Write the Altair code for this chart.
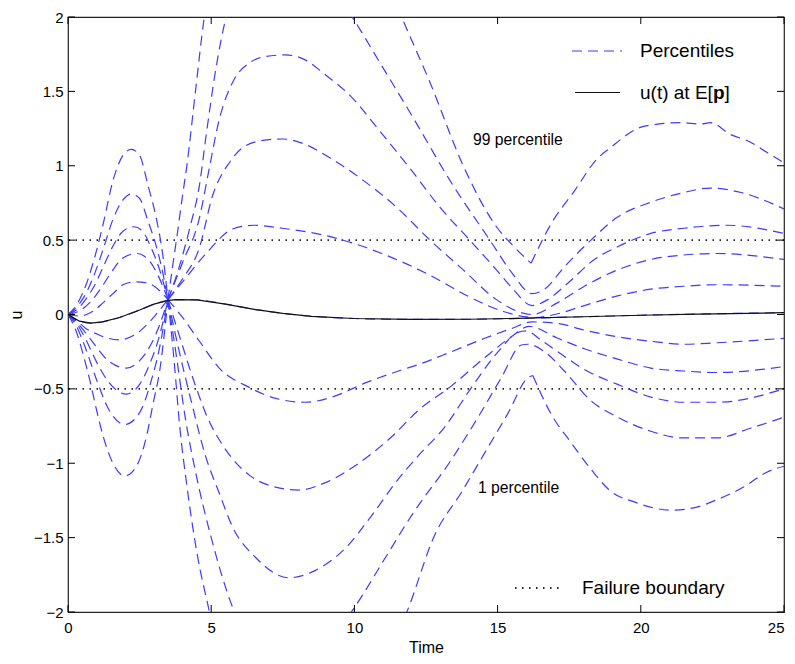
import altair as alt
import pandas as pd

# ---------------- data ----------------
time_ticks = [0, 5, 10, 15, 20, 25]
u_ticks = [-2, -1.5, -1, -0.5, 0, 0.5, 1, 1.5, 2]
failure_levels = [0.5, -0.5]

mean_t = [0, 0.4, 0.8, 1.2, 1.8, 2.5, 3.0, 3.5, 3.8, 4.5, 5.5, 6.5, 7.5, 8.5, 10, 12, 14, 16, 18, 20, 22, 25]
mean_u = [0, -0.045, -0.058, -0.05, -0.02, 0.03, 0.07, 0.095, 0.1, 0.098, 0.07, 0.035, 0.008, -0.012,
          -0.027, -0.033, -0.032, -0.025, -0.015, -0.005, 0.003, 0.012]

med_t = [0, 0.4, 0.8, 1.2, 1.8, 2.5, 3.0, 3.5, 3.8, 4.5, 5.5, 6.5, 7.5, 8.5, 10, 12, 14, 16, 18, 20, 22, 25]
med_u = [0, -0.045, -0.058, -0.05, -0.02, 0.03, 0.07, 0.095, 0.1, 0.098, 0.07, 0.035, 0.008, -0.012,
         -0.027, -0.033, -0.032, -0.025, -0.015, -0.005, 0.003, 0.012]

up5_t = [0, 0.35, 0.65, 0.94, 1.23, 1.57, 1.92, 2.21, 2.5, 2.79, 3.08, 3.31, 3.49, 3.65, 3.8, 4.0, 4.15,
         4.45, 4.76, 5.2, 6.0, 7.0, 8.0, 9.0, 10.0, 11.0, 11.65, 12.64, 13.8, 14.96, 15.6, 16.17, 16.87,
         17.68, 18.49, 18.9, 19.88, 20.6, 21.39, 22.08, 22.43, 23.13, 23.82, 24.4, 25]
up5_u = [0, 0.08, 0.21, 0.39, 0.61, 0.9, 1.07, 1.11, 1.07, 0.87, 0.65, 0.4, 0.1, 0.32, 0.52, 0.8, 1.0,
         1.5, 2.0, 2.4, 2.85, 3.1, 3.15, 3.0, 2.7, 2.3, 2.0, 1.56, 1.0, 0.59, 0.45, 0.345, 0.61,
         0.83, 1.05, 1.115, 1.25, 1.28, 1.29, 1.28, 1.29, 1.21, 1.16, 1.09, 1.02]

up4_t = [0, 0.35, 0.65, 0.94, 1.23, 1.57, 1.92, 2.21, 2.5, 2.79, 3.08, 3.31, 3.49, 3.9, 4.25, 4.59, 4.82,
         5.17, 5.52, 6.2, 7.0, 7.6, 8.2, 9.0, 9.92, 10.9, 12.06, 13.34, 14.73, 15.5, 16.2, 16.64, 17.33,
         18.26, 19.19, 20.35, 21.5, 22.43, 23.5, 25]
up4_u = [0, 0.06, 0.15, 0.28, 0.44, 0.64, 0.77, 0.81, 0.78, 0.63, 0.46, 0.28, 0.1, 0.33, 0.58, 0.87, 1.2,
         1.66, 2.0, 2.3, 2.44, 2.47, 2.43, 2.25, 2.0, 1.69, 1.32, 0.9, 0.5, 0.28, 0.14, 0.17, 0.32,
         0.5, 0.655, 0.755, 0.82, 0.85, 0.82, 0.71]

up3_t = [0, 0.35, 0.65, 0.94, 1.23, 1.57, 1.92, 2.3, 2.6, 2.9, 3.2, 3.49, 4.0, 4.59, 4.9, 5.28, 5.8, 6.33,
         6.9, 7.6, 8.3, 8.93, 9.86, 10.9, 11.95, 12.99, 14.03, 14.96, 15.5, 16.2, 16.75, 17.45, 18.38,
         19.19, 20.35, 21.5, 23.0, 25]
up3_u = [0, 0.04, 0.11, 0.2, 0.32, 0.46, 0.56, 0.59, 0.56, 0.45, 0.3, 0.1, 0.35, 0.65, 0.95, 1.31, 1.58,
         1.69, 1.735, 1.745, 1.71, 1.62, 1.47, 1.23, 0.98, 0.72, 0.5, 0.3, 0.18, 0.06, 0.1, 0.21, 0.37,
         0.455, 0.545, 0.58, 0.6, 0.545]

up2_t = [0, 0.35, 0.65, 0.94, 1.23, 1.57, 1.92, 2.4, 2.8, 3.1, 3.49, 4.0, 4.59, 5.05, 5.63, 6.09, 6.8,
         7.5, 8.2, 9.17, 10.32, 11.48, 12.64, 13.8, 14.96, 16.2, 17.1, 18.03, 19.19, 20.35, 21.5, 22.66, 25]
up2_u = [0, 0.02, 0.06, 0.12, 0.2, 0.3, 0.38, 0.41, 0.37, 0.28, 0.1, 0.24, 0.45, 0.8, 1.02, 1.12, 1.17,
         1.18, 1.15, 1.05, 0.9, 0.72, 0.5, 0.3, 0.1, 0.0, 0.08, 0.19, 0.3, 0.37, 0.4, 0.41, 0.37]

up1_t = [0, 0.35, 0.65, 0.94, 1.23, 1.57, 1.92, 2.35, 2.8, 3.2, 3.49, 4.0, 4.82, 5.75, 6.5, 7.48, 9.22,
         10.96, 12.58, 14.0, 15.2, 16.3, 17.1, 18.03, 19.19, 20.35, 21.5, 22.66, 25]
up1_u = [0, -0.01, 0.0, 0.03, 0.08, 0.14, 0.2, 0.22, 0.21, 0.16, 0.1, 0.22, 0.41, 0.575, 0.6, 0.58, 0.52,
         0.41, 0.27, 0.12, 0.02, -0.02, 0.005, 0.06, 0.125, 0.17, 0.19, 0.2, 0.19]

lo1_t = [0, 0.3, 0.6, 1.0, 1.4, 1.81, 2.3, 2.8, 3.2, 3.49, 4.0, 4.59, 5.28, 6.33, 7.37, 8.3, 9.22, 10.38,
         11.54, 12.23, 13.39, 14.55, 15.48, 16.2, 17.1, 18.03, 19.19, 20.35, 21.5, 22.66, 25]
lo1_u = [0, -0.04, -0.09, -0.13, -0.16, -0.17, -0.14, -0.06, 0.03, 0.1, -0.02, -0.18, -0.36, -0.49, -0.57,
         -0.59, -0.555, -0.46, -0.38, -0.337, -0.25, -0.16, -0.095, -0.05, -0.06, -0.105, -0.15, -0.18,
         -0.2, -0.19, -0.16]

lo2_t = [0, 0.3, 0.6, 1.0, 1.4, 2.04, 2.5, 2.9, 3.2, 3.49, 3.9, 4.4, 4.82, 5.51, 6.33, 7.25, 8.06, 8.99,
         10.15, 11.31, 12.23, 13.39, 14.55, 15.48, 16.1, 17.1, 18.03, 19.19, 20.35, 21.5, 22.66, 25]
lo2_u = [0, -0.05, -0.12, -0.22, -0.31, -0.36, -0.31, -0.2, -0.07, 0.1, -0.15, -0.45, -0.67, -0.91, -1.08,
         -1.16, -1.18, -1.13, -1.0, -0.82, -0.645, -0.48, -0.29, -0.15, -0.08, -0.16, -0.23, -0.3, -0.36,
         -0.38, -0.39, -0.35]

lo3_t = [0, 0.3, 0.6, 1.0, 1.4, 2.04, 2.5, 2.9, 3.2, 3.49, 3.85, 4.3, 4.8, 5.28, 5.75, 6.56, 7.72, 8.64,
         9.69, 10.61, 11.54, 12.23, 13.16, 14.09, 15.02, 15.71, 16.0, 16.5, 17.1, 18.03, 19.19, 20.35,
         21.5, 22.66, 25]
lo3_u = [0, -0.06, -0.16, -0.32, -0.45, -0.535, -0.47, -0.31, -0.14, 0.1, -0.22, -0.58, -0.95, -1.2, -1.43,
         -1.635, -1.77, -1.72, -1.57, -1.35, -1.105, -0.95, -0.755, -0.49, -0.25, -0.12, -0.11, -0.17,
         -0.25, -0.37, -0.47, -0.555, -0.59, -0.59, -0.5]

lo4_t = [0, 0.3, 0.6, 1.0, 1.4, 1.98, 2.5, 2.9, 3.2, 3.49, 3.8, 4.1, 4.5, 5.0, 5.75, 6.5, 7.5, 8.5, 9.3,
         10.0, 11.08, 12.0, 13.39, 14.32, 15.13, 15.83, 16.06, 16.64, 17.33, 18.26, 19.19, 20.35, 21.5,
         22.66, 23.82, 25]
lo4_u = [0, -0.08, -0.22, -0.44, -0.63, -0.74, -0.66, -0.45, -0.22, 0.1, -0.3, -0.7, -1.1, -1.5, -1.97,
         -2.25, -2.35, -2.3, -2.15, -1.97, -1.635, -1.35, -0.975, -0.69, -0.425, -0.205, -0.2, -0.25,
         -0.38, -0.58, -0.69, -0.785, -0.83, -0.83, -0.765, -0.69]

lo5_t = [0, 0.3, 0.53, 0.76, 1.0, 1.23, 1.57, 1.98, 2.39, 2.74, 2.97, 3.2, 3.49, 3.7, 3.9, 4.15, 4.5, 4.94,
         5.5, 6.5, 7.5, 8.5, 9.5, 10.5, 11.83, 12.81, 13.74, 14.55, 15.36, 16.06, 16.23, 16.87, 17.56,
         18.26, 18.96, 19.77, 21.04, 21.85, 22.66, 23.59, 24.4, 25]
lo5_u = [0, -0.12, -0.27, -0.44, -0.645, -0.82, -1.0, -1.085, -1.02, -0.82, -0.6, -0.38, 0.1, -0.3, -0.75,
         -1.15, -1.6, -2.0, -2.5, -3.0, -3.2, -3.15, -2.9, -2.5, -2.0, -1.48, -1.195, -0.93, -0.665,
         -0.425, -0.41, -0.67, -0.86, -1.04, -1.19, -1.26, -1.315, -1.3, -1.245, -1.16, -1.06, -1.02]

# curve name, t list, u list, times where the drawn curve has a sharp corner
percentile_curves = [
    ("up5", up5_t, up5_u, [3.49, 16.17]),
    ("up4", up4_t, up4_u, [3.49]),
    ("up3", up3_t, up3_u, [3.49]),
    ("up2", up2_t, up2_u, [3.49]),
    ("up1", up1_t, up1_u, [3.49]),
    ("med", med_t, med_u, []),
    ("lo1", lo1_t, lo1_u, [3.49]),
    ("lo2", lo2_t, lo2_u, [3.49]),
    ("lo3", lo3_t, lo3_u, [3.49]),
    ("lo4", lo4_t, lo4_u, [3.49]),
    ("lo5", lo5_t, lo5_u, [3.49, 16.23]),
]

rows = []
for name, ts, us, corners in percentile_curves:
    seg = 0
    for t, u in zip(ts, us):
        rows.append({"curve": name, "seg": seg, "t": t, "u": u})
        if t in corners:
            seg += 1
            rows.append({"curve": name, "seg": seg, "t": t, "u": u})
pct_df = pd.DataFrame(rows)
mean_df = pd.DataFrame({"t": mean_t, "u": mean_u})
fail_df = pd.DataFrame({"u": failure_levels})
xt_df = pd.DataFrame({"t": time_ticks})
yt_df = pd.DataFrame({"u": u_ticks})
one = pd.DataFrame({"k": [0]})

# ---------------- styling ----------------
FONT = "Liberation Sans"
W, H = 716, 595
BLUE = "#3c3cff"
DASH = [10, 6]

xs = alt.Scale(domain=[0, 25], nice=False, zero=False)
ys = alt.Scale(domain=[-2, 2], nice=False, zero=False)
xaxis = alt.Axis(values=time_ticks, format="d", ticks=False, domain=False, grid=False,
                 labelFont=FONT, labelFontSize=15, labelColor="black", labelPadding=8,
                 labelAlign=alt.condition("datum.value == 25", alt.value("right"), alt.value("center")),
                 title="Time", titleFont=FONT, titleFontSize=16, titleFontWeight="normal",
                 titleColor="black", titleX=W / 2, titleY=35, titleBaseline="middle")
yaxis = alt.Axis(values=u_ticks, format="~g", ticks=False, domain=False, grid=False,
                 labelFont=FONT, labelFontSize=15, labelColor="black", labelPadding=5,
                 title="u", titleFont=FONT, titleFontSize=16, titleFontWeight="normal",
                 titleColor="black", titleX=-52, titleY=H / 2, titleAngle=-90,
                 titleBaseline="middle", titleAlign="center")
X = alt.X("t:Q", scale=xs, axis=xaxis)
Y = alt.Y("u:Q", scale=ys, axis=yaxis)

mean_line = alt.Chart(mean_df).mark_line(color="#111111", strokeWidth=1.2, clip=True).encode(x=X, y=Y)

pct_lines = alt.Chart(pct_df).mark_line(
    color=BLUE, strokeWidth=1.2, strokeDash=DASH, clip=True, interpolate="monotone"
).encode(x=X, y=Y, detail=["curve:N", "seg:Q"])

fail_lines = alt.Chart(fail_df).mark_rule(
    color="#222222", strokeWidth=1.8, strokeDash=[1.5, 5.5]
).encode(y=Y)

ticks_bottom = alt.Chart(xt_df).mark_rule(color="black", strokeWidth=1).encode(
    x=X, y=alt.value(H), y2=alt.value(H - 7))
ticks_top = alt.Chart(xt_df).mark_rule(color="black", strokeWidth=1).encode(
    x=X, y=alt.value(0), y2=alt.value(7))
ticks_left = alt.Chart(yt_df).mark_rule(color="black", strokeWidth=1).encode(
    y=Y, x=alt.value(0), x2=alt.value(7))
ticks_right = alt.Chart(yt_df).mark_rule(color="black", strokeWidth=1).encode(
    y=Y, x=alt.value(W), x2=alt.value(W - 7))


def label(text, x, y, size, weight="normal"):
    return alt.Chart(one).mark_text(
        text=text, align="left", baseline="middle", font=FONT, fontSize=size,
        fontWeight=weight, color="black"
    ).encode(x=alt.value(x), y=alt.value(y))


leg_pct = alt.Chart(one).mark_rule(color=BLUE, strokeWidth=1.2, strokeDash=DASH).encode(
    x=alt.value(504), x2=alt.value(554), y=alt.value(34))
leg_mean = alt.Chart(one).mark_rule(color="#111111", strokeWidth=1.2).encode(
    x=alt.value(507), x2=alt.value(552), y=alt.value(75.5))
leg_fail = alt.Chart(one).mark_rule(color="#222222", strokeWidth=1.8, strokeDash=[1.5, 5.5]).encode(
    x=alt.value(447), x2=alt.value(494), y=alt.value(571))

texts = [
    label("Percentiles", 572, 34, 19),
    label("u(t) at E[", 572, 75.5, 19),
    label("p", 644.9, 75.5, 19, "bold"),
    label("]", 656.5, 75.5, 19),
    label("99 percentile", 405, 123, 15.7),
    label("1 percentile", 410, 471, 15.7),
    label("Failure boundary", 514, 571, 19),
]

chart = alt.layer(
    fail_lines, pct_lines, mean_line, ticks_bottom, ticks_top, ticks_left, ticks_right,
    leg_pct, leg_mean, leg_fail, *texts
).properties(
    width=W, height=H,
    autosize=alt.AutoSizeParams(type="none"),
    padding={"left": 60, "top": 9, "right": 3, "bottom": 42},
    background="white",
).configure_view(stroke="#222222", strokeWidth=1.2)

chart.save("out.html", embed_options={"renderer": "svg", "actions": False})
